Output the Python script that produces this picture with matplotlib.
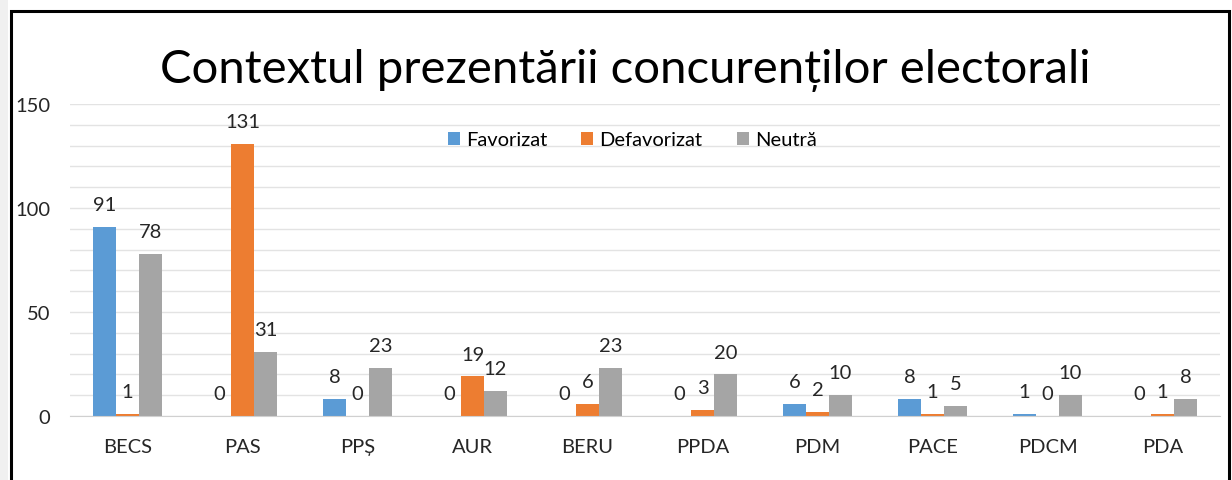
import numpy as np
import matplotlib
matplotlib.use("Agg")
import matplotlib.pyplot as plt
from matplotlib.patches import Rectangle

# data
parties = ["BECS", "PAS", "PPȘ", "AUR", "BERU", "PPDA", "PDM", "PACE", "PDCM", "PDA"]
favorizat = [91, 0, 8, 0, 0, 0, 6, 8, 1, 0]
defavorizat = [1, 131, 0, 19, 6, 3, 2, 1, 0, 1]
neutra = [78, 31, 23, 12, 23, 20, 10, 5, 10, 8]

series = [("Favorizat", favorizat, "#5B9BD5"),
          ("Defavorizat", defavorizat, "#ED7D31"),
          ("Neutră", neutra, "#A5A5A5")]

plt.rcParams['font.family'] = ['Lato', 'DejaVu Sans']

fig = plt.figure(figsize=(12.32, 4.81), dpi=100)
ax = fig.add_axes([70 / 1232, 64 / 481, 1150 / 1232, 312 / 481])

x = np.arange(len(parties))
w = 0.2
for k, (name, vals, col) in enumerate(series):
    pos = x + (k - 1) * w
    ax.bar(pos, vals, w, color=col, label=name, zorder=3)
    for xi, v in zip(pos, vals):
        ax.annotate(str(v), (xi, v), xytext=(0, 10), textcoords="offset points",
                    ha="center", va="bottom", fontsize=14.5, color="#262626")

ax.set_xlim(-0.5, len(parties) - 0.5)
ax.set_ylim(0, 150)
ax.set_yticks([0, 50, 100, 150])
ax.set_yticks(np.arange(0, 151, 10), minor=True)
ax.grid(axis="y", which="both", color="#E3E3E3", linewidth=1, zorder=0)
ax.tick_params(axis="y", which="both", length=0, pad=14, labelsize=14.5, labelcolor="#262626")
ax.set_xticks(x)
ax.set_xticklabels(parties)
ax.tick_params(axis="x", length=0, pad=16, labelsize=14.5, labelcolor="#262626")
for s in ["top", "right", "left"]:
    ax.spines[s].set_visible(False)
ax.spines["bottom"].set_color("#D0D0D0")
ax.spines["bottom"].set_zorder(4)

ax.legend(loc="center", bbox_to_anchor=(632 / 1232, 1 - 141 / 481), bbox_transform=fig.transFigure,
          ncol=3, frameon=False, fontsize=14.5, handlelength=0.6, handleheight=0.6,
          columnspacing=1.7, handletextpad=0.3)

fig.text(625 / 1232, 1 - 71 / 481, "Contextul prezentării concurenților electorali",
         ha="center", va="center", fontsize=34, color="#000000")

# outer frame like the screenshot
fig.patches.append(Rectangle((11 / 1232, -0.05), 1218 / 1232, 1.05 - 12 / 481,
                             transform=fig.transFigure, fill=False, edgecolor="black",
                             linewidth=2.2, zorder=10))
fig.patches.append(Rectangle((0, 0), 8 / 1232, 1, transform=fig.transFigure,
                             facecolor="#F0F0F0", edgecolor="none", zorder=0))

fig.savefig("out.png", dpi=100)
